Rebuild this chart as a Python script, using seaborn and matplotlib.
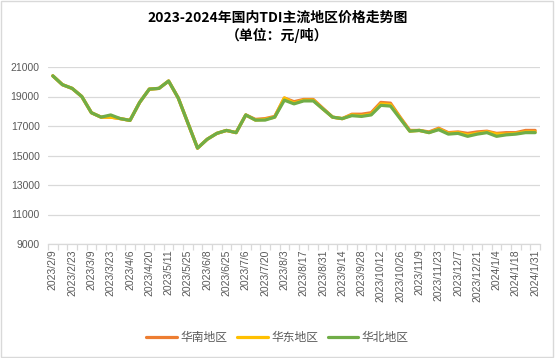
import matplotlib
matplotlib.use("Agg")
import matplotlib.pyplot as plt
import seaborn as sns
import pandas as pd
from matplotlib.patches import Rectangle

dates = ["2023/2/9", "2023/2/16", "2023/2/23", "2023/3/2", "2023/3/9", "2023/3/16",
         "2023/3/23", "2023/3/30", "2023/4/6", "2023/4/13", "2023/4/20", "2023/4/27",
         "2023/5/11", "2023/5/18", "2023/5/25", "2023/6/1", "2023/6/8", "2023/6/15",
         "2023/6/25", "2023/6/29", "2023/7/6", "2023/7/13", "2023/7/20", "2023/7/27",
         "2023/8/3", "2023/8/10", "2023/8/17", "2023/8/24", "2023/8/31", "2023/9/7",
         "2023/9/14", "2023/9/21", "2023/9/28", "2023/10/5", "2023/10/12", "2023/10/19",
         "2023/10/26", "2023/11/2", "2023/11/9", "2023/11/16", "2023/11/23", "2023/11/30",
         "2023/12/7", "2023/12/14", "2023/12/21", "2023/12/28", "2024/1/4", "2024/1/11",
         "2024/1/18", "2024/1/25", "2024/1/31"]

south = [20400, 19800, 19550, 19000, 17900, 17600, 17600, 17500, 17380, 18600,
         19500, 19550, 20050, 18900, 17200, 15500, 16100, 16500, 16700, 16550,
         17750, 17450, 17500, 17650, 18900, 18650, 18800, 18800, 18200, 17600,
         17500, 17800, 17800, 17900, 18600, 18550, 17600, 16700, 16700, 16600,
         16850, 16550, 16600, 16500, 16600, 16650, 16500, 16550, 16550, 16700, 16700]

east = [20400, 19800, 19550, 19000, 17900, 17600, 17600, 17500, 17380, 18600,
        19500, 19550, 20050, 18900, 17200, 15500, 16100, 16500, 16700, 16550,
        17750, 17400, 17450, 17600, 18900, 18550, 18750, 18750, 18150, 17600,
        17500, 17750, 17700, 17800, 18500, 18450, 17550, 16650, 16700, 16550,
        16800, 16500, 16550, 16400, 16500, 16600, 16450, 16450, 16500, 16600, 16600]

north = [20400, 19800, 19550, 19000, 17900, 17600, 17750, 17500, 17380, 18600,
         19500, 19550, 20050, 18900, 17200, 15500, 16100, 16500, 16700, 16550,
         17750, 17400, 17400, 17600, 18750, 18500, 18700, 18700, 18150, 17600,
         17500, 17700, 17650, 17750, 18400, 18350, 17500, 16650, 16700, 16550,
         16750, 16450, 16500, 16300, 16450, 16550, 16300, 16400, 16450, 16550, 16550]

series_names = ["华南地区", "华东地区", "华北地区"]
colors = ["#ED7D31", "#FFC000", "#70AD47"]
yticks = [9000, 11000, 13000, 15000, 17000, 19000, 21000]

title = "2023-2024年国内TDI主流地区价格走势图\n（单位：元/吨）"

sns.set_theme(style="white")
plt.rcParams["font.family"] = ["Noto Sans CJK SC", "DejaVu Sans"]

idx = list(range(len(dates)))
df = pd.concat([
    pd.DataFrame({"i": idx, "price": vals, "region": name})
    for name, vals in zip(series_names, [south, east, north])
])

fig = plt.figure(figsize=(5.55, 3.58), dpi=100)
ax = fig.add_axes([48 / 555, 1 - 244 / 358, (540 - 48) / 555, (244 - 67) / 358])

sns.lineplot(data=df, x="i", y="price", hue="region", hue_order=series_names,
             palette=colors, linewidth=2.3, ax=ax, sort=False, legend=True)

ax.set_xlim(-0.5, len(dates) - 0.5)
ax.set_ylim(9000, 21000)
ax.set_yticks(yticks)
ax.set_yticklabels([str(v) for v in yticks], fontsize=7.5, color="#595959",
                   family=["Liberation Sans", "DejaVu Sans"])
ax.yaxis.grid(True, color="#D9D9D9", linewidth=0.9)
ax.set_axisbelow(True)
ax.tick_params(axis="y", length=0, pad=6)

ax.set_xticks(idx[::2])
ax.set_xticklabels(dates[::2], rotation=90, fontsize=7.5, color="#595959",
                   family=["Liberation Sans", "DejaVu Sans"], va="top")
ax.set_xticks([i - 0.5 for i in range(len(dates) + 1)], minor=True)
ax.tick_params(axis="x", which="major", length=0, pad=4)
ax.tick_params(axis="x", which="minor", length=4, color="#D9D9D9", width=0.9,
               direction="out", bottom=True)
ax.set_xlabel("")
ax.set_ylabel("")
for s in ["left", "right", "top"]:
    ax.spines[s].set_visible(False)
ax.spines["bottom"].set_color("#D9D9D9")
ax.spines["bottom"].set_linewidth(0.9)

handles, labels = ax.get_legend_handles_labels()
ax.legend_.remove()
fig.legend(handles, labels, loc="center", bbox_to_anchor=(0.5, 1 - 338 / 358),
           ncol=3, frameon=False, fontsize=8.5, handlelength=2.6, columnspacing=0.8,
           handletextpad=0.3, labelcolor="#595959")

fig.text(0.5, 1 - 27 / 358, title, ha="center", va="center", fontsize=10,
         fontweight="bold", linespacing=1.3, color="#000000")

fig.patches.append(Rectangle((0.002, 0.003), 0.995, 0.994, transform=fig.transFigure,
                             fill=False, edgecolor="#D9D9D9", linewidth=1))

fig.savefig("out.png", dpi=100)
